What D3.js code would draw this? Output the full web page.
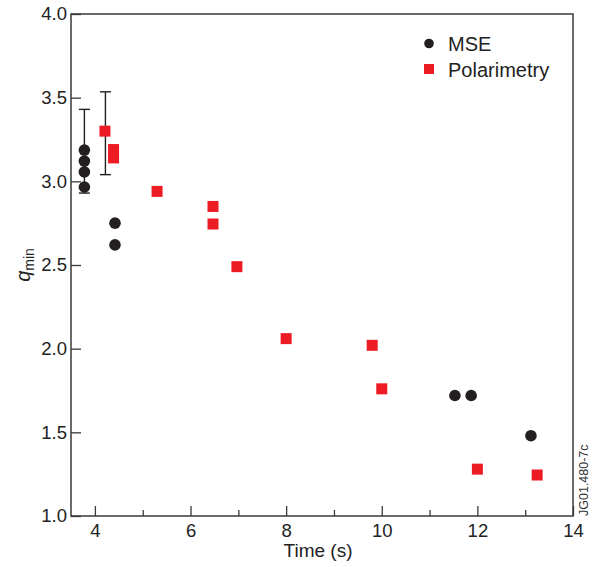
<!DOCTYPE html>
<html><head><meta charset="utf-8">
<script src="https://cdn.jsdelivr.net/npm/d3@7"></script>
<style>body{margin:0;background:#fff}svg{display:block;font-family:"Liberation Sans",Arial,sans-serif}</style>
</head><body>
<script>
const mseTime = [3.78, 3.78, 3.78, 3.78, 4.42, 4.42, 11.53, 11.87, 13.12];
const mseQ    = [3.187, 3.121, 3.056, 2.966, 2.75, 2.62, 1.72, 1.72, 1.48];
const polTime = [4.21, 4.39, 4.39, 5.30, 6.47, 6.47, 6.97, 8.0, 9.80, 10.0, 12.0, 13.25];
const polQ    = [3.30, 3.19, 3.14, 2.94, 2.85, 2.745, 2.49, 2.06, 2.02, 1.76, 1.28, 1.245];
const errTime = [3.78, 4.22];
const errLow  = [2.93, 3.04];
const errHigh = [3.43, 3.535];
const xTicks = [4, 6, 8, 10, 12, 14];
const xMinor = [5, 7, 9, 11, 13];
const yTicks = [1.0, 1.5, 2.0, 2.5, 3.0, 3.5, 4.0];
const legendLabels = ["MSE", "Polarimetry"];

const W = 594, H = 567;
const m = {l: 71, r: 21, t: 14, b: 51};
const svg = d3.select("body").append("svg").attr("width", W).attr("height", H);
const x = d3.scaleLinear().domain([3.5, 14]).range([m.l, W - m.r]);
const y = d3.scaleLinear().domain([1, 4]).range([H - m.b, m.t]);
const axisCol = "#3a3a3a", black = "#231f20", red = "#ed1c24";

// frame
svg.append("rect").attr("x", x(3.5)).attr("y", y(4)).attr("width", x(14) - x(3.5)).attr("height", y(1) - y(4))
  .attr("fill", "none").attr("stroke", axisCol).attr("stroke-width", 1.5);

// x axis
const xa = svg.append("g").attr("transform", `translate(0,${y(1)})`)
  .call(d3.axisBottom(x).tickValues(xTicks).tickSize(-10).tickPadding(10).tickFormat(d3.format("d")));
xa.select(".domain").remove();
xa.selectAll("line").attr("stroke", axisCol).attr("stroke-width", 1.3);
xa.selectAll("text").attr("font-size", 18.5).attr("fill", "#222").attr("dy", null).attr("y", 21);
svg.append("g").attr("transform", `translate(0,${y(1)})`)
  .call(d3.axisBottom(x).tickValues(xMinor).tickSize(-6).tickFormat(""))
  .call(g => { g.select(".domain").remove(); g.selectAll("line").attr("stroke", axisCol).attr("stroke-width", 1.3); });

// y axis
const ya = svg.append("g").attr("transform", `translate(${x(3.5)},0)`)
  .call(d3.axisLeft(y).tickValues(yTicks).tickSize(-10).tickPadding(4).tickFormat(d3.format(".1f")));
ya.select(".domain").remove();
ya.selectAll("line").attr("stroke", axisCol).attr("stroke-width", 1.3);
ya.selectAll("text").attr("font-size", 18.5).attr("fill", "#222");

// axis titles
svg.append("text").attr("x", 318).attr("y", 557).attr("text-anchor", "middle")
  .attr("font-size", 19).attr("fill", "#222").text("Time (s)");
const yl = svg.append("text").attr("transform", `translate(30,${(y(1) + y(4)) / 2}) rotate(-90)`)
  .attr("text-anchor", "middle").attr("font-size", 20).attr("fill", "#222");
yl.append("tspan").attr("font-style", "italic").text("q");
yl.append("tspan").attr("font-size", 14).attr("dy", 4).text("min");

// ID label
svg.append("text").attr("transform", `translate(588,${y(1)}) rotate(-90)`)
  .attr("font-size", 12.5).attr("fill", "#333").text("JG01.480-7c");

// error bars
errTime.forEach((t, i) => {
  const g = svg.append("g").attr("stroke", black).attr("stroke-width", 1.4);
  g.append("line").attr("x1", x(t)).attr("x2", x(t)).attr("y1", y(errLow[i])).attr("y2", y(errHigh[i]));
  [errLow[i], errHigh[i]].forEach(v => g.append("line").attr("x1", x(t) - 5.5).attr("x2", x(t) + 5.5).attr("y1", y(v)).attr("y2", y(v)));
});

// polarimetry squares
const s = 11;
svg.append("g").selectAll("rect").data(polTime).join("rect")
  .attr("x", (d) => x(d) - s / 2).attr("y", (d, i) => y(polQ[i]) - s / 2)
  .attr("width", s).attr("height", s).attr("fill", red);

// MSE circles
svg.append("g").selectAll("circle").data(mseTime).join("circle")
  .attr("cx", d => x(d)).attr("cy", (d, i) => y(mseQ[i])).attr("r", 5.8).attr("fill", black);

// legend
const lg = svg.append("g");
lg.append("circle").attr("cx", 429).attr("cy", 43.5).attr("r", 4.8).attr("fill", black);
lg.append("rect").attr("x", 424).attr("y", 64).attr("width", 10).attr("height", 10).attr("fill", red);
legendLabels.forEach((l, i) => lg.append("text").attr("x", 448).attr("y", 50.5 + i * 26)
  .attr("font-size", 20).attr("fill", "#222").text(l));
</script>
</body></html>
